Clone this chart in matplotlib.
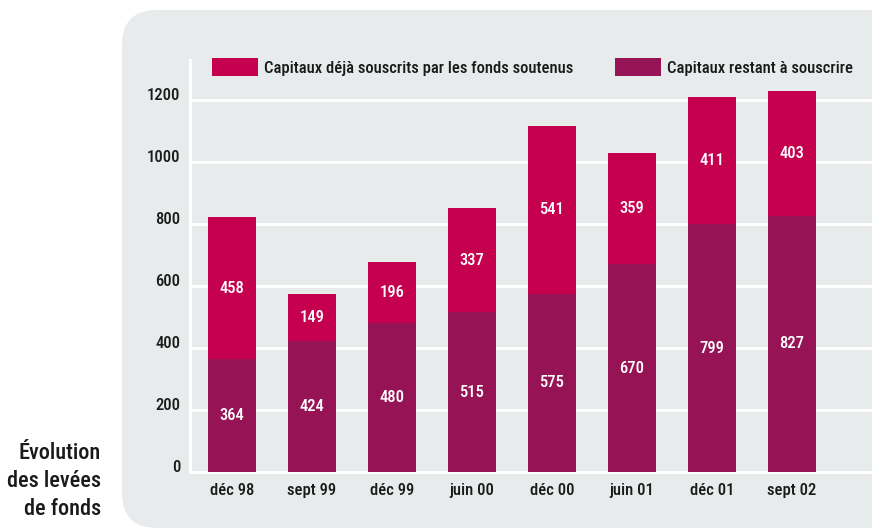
import matplotlib.pyplot as plt
from matplotlib.patches import FancyBboxPatch, Patch
from matplotlib.transforms import IdentityTransform

plt.rcParams['font.family'] = ['Roboto Condensed', 'Archivo Narrow', 'DejaVu Sans']

periodes = ['déc 98', 'sept 99', 'déc 99', 'juin 00', 'déc 00', 'juin 01', 'déc 01', 'sept 02']
restant = [364, 424, 480, 515, 575, 670, 799, 827]
souscrits = [458, 149, 196, 337, 541, 359, 411, 403]
yticks = [0, 200, 400, 600, 800, 1000, 1200]

col_souscrits = '#c4004f'
col_restant = '#961455'
fond = '#e8ebec'
texte = '#1a1a1a'

fig = plt.figure(figsize=(8.72, 5.29), dpi=100)

# panneau gris arrondi derrière le graphique
panneau = FancyBboxPatch((122 + 35, 1 + 35), 800 - 70, 518 - 70,
                         boxstyle='round,pad=35', transform=IdentityTransform(),
                         facecolor=fond, edgecolor='none', zorder=-1)
fig.patches.append(panneau)

ax = fig.add_axes([190 / 872, 57 / 529, 682 / 872, 412 / 529])
ax.set_facecolor('none')

x = range(len(periodes))
b1 = ax.bar(x, restant, width=0.61, color=col_restant, zorder=3)
b2 = ax.bar(x, souscrits, width=0.61, bottom=restant, color=col_souscrits, zorder=3)
ax.bar_label(b1, labels=[str(v) for v in restant], label_type='center',
             color='white', fontsize=12, fontweight='medium')
ax.bar_label(b2, labels=[str(v) for v in souscrits], label_type='center',
             color='white', fontsize=12, fontweight='medium')

ax.set_xlim(-0.525, 8.0)
ax.set_ylim(0, 1329)
ax.set_xticks(list(x))
ax.set_xticklabels(periodes, fontsize=12, fontweight='medium', color=texte)
ax.set_yticks(yticks)
ax.set_yticklabels([str(t) for t in yticks], fontsize=12, fontweight='medium',
                   color=texte, va='baseline')
ax.tick_params(axis='both', length=0)
ax.tick_params(axis='x', pad=8)
ax.tick_params(axis='y', pad=7)

ax.grid(axis='y', color='white', linewidth=2.2, zorder=1)
ax.set_axisbelow(True)
for s in ['top', 'right']:
    ax.spines[s].set_visible(False)
for s in ['left', 'bottom']:
    ax.spines[s].set_color('white')
    ax.spines[s].set_linewidth(2.2)

handles = [Patch(facecolor=col_souscrits, label='Capitaux déjà souscrits par les fonds soutenus'),
           Patch(facecolor=col_restant, label='Capitaux restant à souscrire')]
leg = ax.legend(handles=handles, ncol=2, loc='upper left', bbox_to_anchor=(0.032, 1.005),
                frameon=False, borderpad=0, borderaxespad=0, handlelength=2.75,
                handleheight=1.3, handletextpad=0.38, columnspacing=2.5,
                prop={'size': 12, 'weight': 'medium'})
for t in leg.get_texts():
    t.set_color(texte)

fig.text(101 / 872, 1 - 442 / 529, 'Évolution\ndes levées\nde fonds', ha='right', va='top',
         multialignment='right', fontsize=16, fontweight='medium', color=texte, linespacing=1.35)

fig.savefig('out.png', dpi=100)
